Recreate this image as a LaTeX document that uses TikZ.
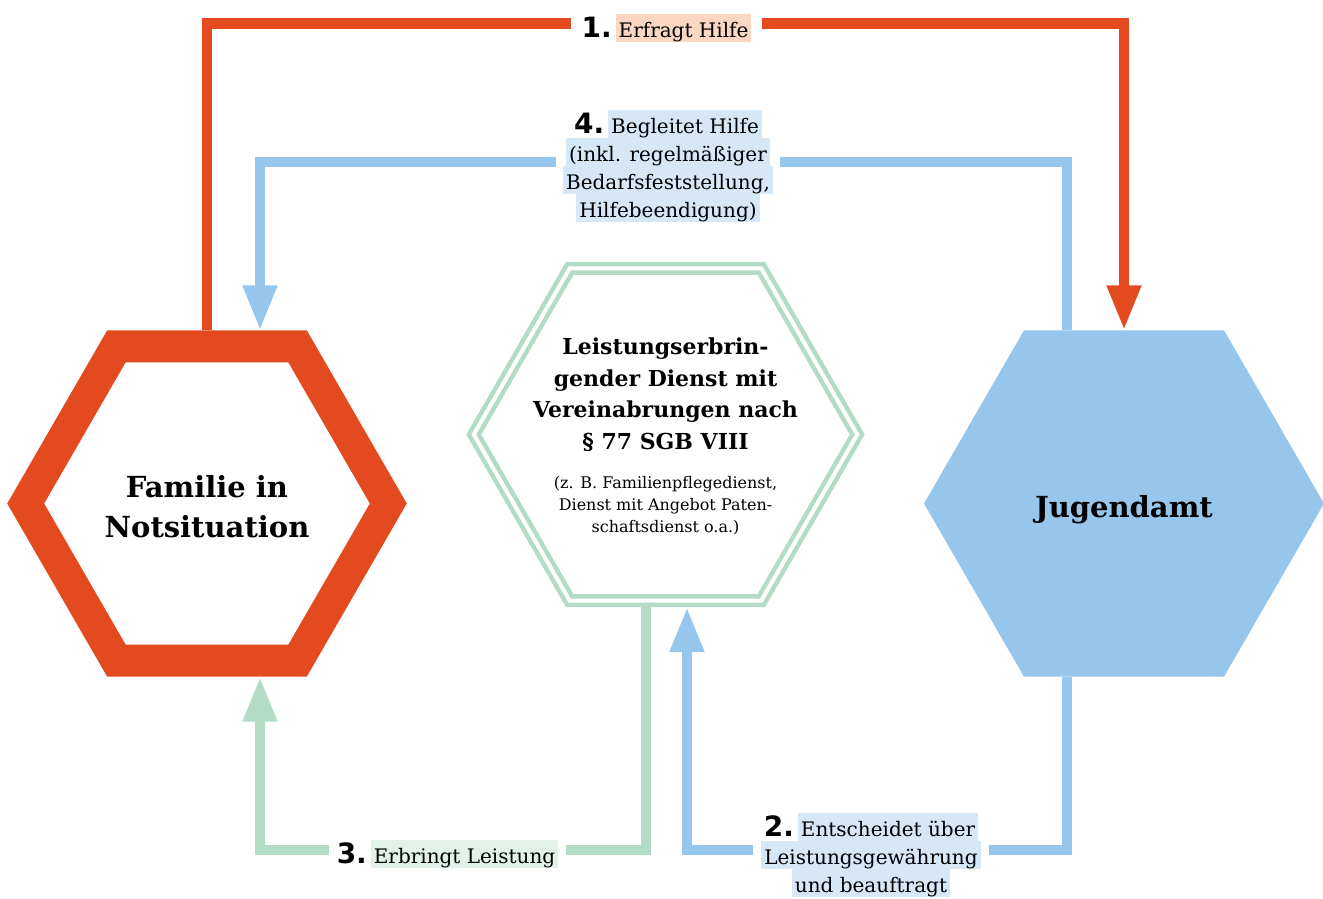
\documentclass[tikz,border=0pt]{standalone}
\usepackage{fontspec}
\setmainfont{DejaVu Serif}
\newfontfamily\numfont{DejaVu Sans}
\usetikzlibrary{shapes.geometric, arrows.meta}
\definecolor{famred}{HTML}{E44A20}
\definecolor{jugblue}{HTML}{96C6EB}
\definecolor{dienstgreen}{HTML}{B3DCC6}
\definecolor{hlred}{HTML}{FAD6C3}
\definecolor{hlblue}{HTML}{D6E8F8}
\definecolor{hlgreen}{HTML}{E2F2E8}
\setlength{\fboxsep}{0pt}
\newcommand{\hlbox}[2]{\colorbox{#1}{\hspace{3pt}\vrule height 23pt depth 5pt width 0pt #2\hspace{3pt}}}
\newcommand{\nr}[1]{{\numfont\bfseries\fontsize{28}{28}\selectfont #1}\hspace{4pt}}

\begin{document}
\begin{tikzpicture}[x=1pt,y=-1pt]
	\tikzstyle{hexa} = [regular polygon,regular polygon sides=6,inner sep=0pt,line join=miter]
	\tikzstyle{conn} = [line width=10.5pt,line join=miter]
	\tikzstyle{pfeil} = [-{Triangle[width=32pt,length=45pt]}]
	\tikzstyle{lbl} = [fill=white,inner ysep=0pt,align=center,font=\fontsize{20}{28}\selectfont]
	\tikzstyle{txt} = [inner sep=0pt,align=center]

	\useasboundingbox (0,0) rectangle (1323,898);

	% die drei Sechsecke
	\node[hexa,draw=famred,line width=32pt,outer sep=16pt,minimum size=362.6pt] (fam) at (207,503.5) {};
	\node[hexa,draw=dienstgreen,line width=4.5pt,double=white,double distance=4pt,outer sep=6.5pt,minimum size=383.4pt] (dienst) at (665.5,434.5) {};
	\node[hexa,fill=jugblue,outer sep=0pt,minimum size=400pt] (jug) at (1124,503.5) {};

	\node[txt,font=\bfseries\fontsize{29}{40}\selectfont,anchor=north] (famtxt) at (207,475) {Familie in\\Notsituation};
	\node[txt,font=\bfseries\fontsize{22}{31.5}\selectfont,anchor=north] (diensttxt) at (665.5,338) {Leistungserbrin-\\gender Dienst mit\\Vereinabrungen nach\\§ 77 SGB VIII};
	\node[txt,font=\fontsize{16}{22}\selectfont,anchor=north] (dienstsub) at (665.5,476) {(z. B. Familienpflegedienst,\\Dienst mit Angebot Paten-\\schaftsdienst o.a.)};
	\node[txt,font=\bfseries\fontsize{29}{40}\selectfont,anchor=base] (jugtxt) at (1124,517) {Jugendamt};

	% Verbindungen
	\coordinate (oben) at (0,23.5);
	\coordinate (mitte) at (0,162);
	\coordinate (unten) at (0,850);
	\draw[conn,pfeil,famred] (fam.north) -- (fam.north |- oben) -| (jug.north);
	\draw[conn,pfeil,jugblue] ([xshift=-57pt]jug.north) -- ([xshift=-57pt]jug.north |- mitte) -| ([xshift=53pt]fam.north);
	\draw[conn,pfeil,dienstgreen] ([xshift=-19.5pt]dienst.south) -- ([xshift=-19.5pt]dienst.south |- unten) -| ([xshift=53pt]fam.south);
	\draw[conn,pfeil,jugblue] ([xshift=-57pt]jug.south) -- ([xshift=-57pt]jug.south |- unten) -| ([xshift=21.5pt]dienst.south);

	\node[lbl,inner xsep=11pt,anchor=base] (l1) at (666.5,37) {\nr{1.}\hlbox{hlred}{Erfragt Hilfe}};
	\node[lbl,inner xsep=7pt,anchor=north] (l4) at (668,110) {\nr{4.}\hlbox{hlblue}{Begleitet Hilfe}\\\hlbox{hlblue}{(inkl. regelmäßiger}\\\hlbox{hlblue}{Bedarfsfeststellung,}\\\hlbox{hlblue}{Hilfebeendigung)}};
	\node[lbl,inner xsep=8pt,anchor=base] (l3) at (447.5,863) {\nr{3.}\hlbox{hlgreen}{Erbringt Leistung}};
	\node[lbl,inner xsep=8pt,anchor=north] (l2) at (871,813) {\nr{2.}\hlbox{hlblue}{Entscheidet über}\\\hlbox{hlblue}{Leistungsgewährung}\\\hlbox{hlblue}{und beauftragt}};
\end{tikzpicture}
\end{document}
